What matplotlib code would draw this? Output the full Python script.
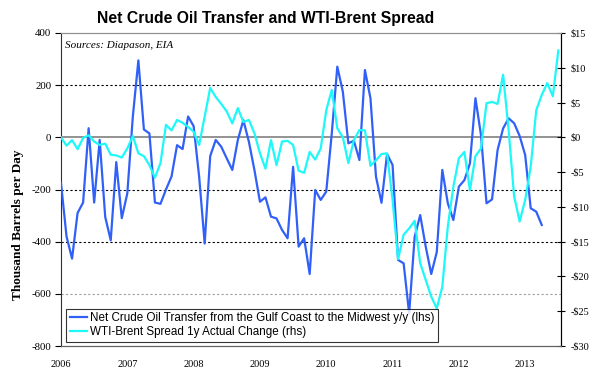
import matplotlib
matplotlib.use("Agg")
import matplotlib.pyplot as plt
import numpy as np

# Net crude oil transfer (thousand b/d, y/y), monthly from Jan 2006
transfer = [
    -175, -380, -465, -290, -250, 35, -250, -10, -305, -395, -95, -310,      # 2006
    -215, 80, 295, 30, 15, -250, -255, -200, -150, -30, -45, 80,             # 2007
    43, -151, -407, -72, -10, -36, -81, -125, -10, 66, -17, -125,            # 2008
    -247, -230, -304, -311, -355, -387, -113, -419, -387, -524, -202, -240,  # 2009
    -208, 15, 271, 175, -23, -13, -87, 258, 150, -151, -251, -64,            # 2010
    -106, -470, -483, -675, -381, -298, -419, -524, -440, -125, -253, -317,  # 2011
    -189, -164, -100, 150, 9, -253, -238, -49, 34, 73, 54, 5,                # 2012
    -68, -272, -285, -336,                                                   # 2013
]
# WTI-Brent spread 1y actual change ($), monthly from Jan 2006
spread = [
    0, -1.2, -0.4, -1.7, -0.1, 0.3, -0.6, -1.1, -0.9, -2.5, -2.6, -2.9,
    -1.6, 0.2, -2.3, -2.7, -4.0, -5.8, -3.7, 1.8, 1.0, 2.5, 2.1, 1.5,
    0.8, -1.1, 3.0, 7.1, 5.8, 4.8, 3.7, 2.0, 4.2, 2.2, 2.5, 0.6,
    -2.3, -4.5, -0.4, -4.0, -0.6, -0.5, -1.1, -4.8, -5.1, -2.1, -3.2, -1.6,
    3.9, 6.8, 1.3, 0.0, -3.7, -0.4, 1.05, 1.0, -4.1, -3.3, -2.4, -2.3,
    -9.0, -17.5, -14.0, -13.1, -12.0, -18.1, -20.5, -22.9, -24.6, -21.5, -12.8, -7.1,
    -3.0, -2.1, -7.6, -2.7, -1.6, 4.9, 5.1, 4.8, 9.0, 1.05, -8.5, -12.1,
    -9.0, -4.2, 3.9, 6.1, 7.8, 5.9, 12.5,
]
years = [2006, 2007, 2008, 2009, 2010, 2011, 2012, 2013]
left_ticks = [400, 200, 0, -200, -400, -600, -800]
right_ticks = [15, 10, 5, 0, -5, -10, -15, -20, -25, -30]

t_transfer = 2006 + np.arange(len(transfer)) / 12.0
t_spread = 2006 + np.arange(len(spread)) / 12.0

serif = "Liberation Serif"
sans = "Liberation Sans"

fig = plt.figure(figsize=(6.1, 3.75), dpi=100)
ax = fig.add_axes([61/610, 1-346/375, 500/610, 313/375])
ax2 = ax.twinx()

ax.set_xlim(2006.0, 2013.54)
ax.set_ylim(-800, 400)
ax2.set_ylim(-30, 15)

# gridlines
for v in [200, -200, -400]:
    ax.axhline(v, color="black", lw=0.8, ls=(0, (2, 2)), zorder=1)
ax.axhline(-600, color="#a0a0a0", lw=0.8, ls=(0, (2, 2)), zorder=1)
ax.axhline(0, color="#808080", lw=1.2, zorder=1)

l1, = ax.plot(t_transfer, transfer, color="#3060F8", lw=1.6, zorder=3,
              label="Net Crude Oil Transfer from the Gulf Coast to the Midwest y/y (lhs)")
l2, = ax2.plot(t_spread, spread, color="#1EF8F8", lw=1.6, zorder=3,
               label="WTI-Brent Spread 1y Actual Change (rhs)")

# spines
ax.spines["top"].set_color("#909090")
ax2.spines["top"].set_color("#909090")
ax.spines["left"].set_color("#303030")
ax2.spines["right"].set_color("black")
ax.spines["bottom"].set_color("#606060")
ax2.spines["bottom"].set_color("#606060")
ax2.spines["left"].set_visible(False)

ax.set_yticks(left_ticks)
ax.set_yticklabels([str(v) for v in left_ticks], fontfamily=serif, fontsize=7.8)
ax.tick_params(axis="y", direction="out", length=4, width=0.8, pad=3)
ax.set_xticks(years)
ax.set_xticklabels([str(y) for y in years], fontfamily=serif, fontsize=7.4)
ax.tick_params(axis="x", length=0, pad=10)

ax2.set_yticks(right_ticks)
ax2.set_yticklabels([("-$%d" % -v) if v < 0 else ("$%d" % v) for v in right_ticks],
                    fontfamily=serif, fontsize=7.4)
ax2.tick_params(axis="y", direction="inout", length=6, width=0.8, pad=4)

ax.set_ylabel("Thousand Barrels per Day", fontfamily=serif, fontsize=9.5,
              fontweight="bold")
ax.yaxis.set_label_coords(-37/500, (346-225)/313)

ax.text(0.008, 0.975, "Sources: Diapason, EIA", transform=ax.transAxes,
        fontfamily=serif, fontstyle="italic", fontsize=8, va="top", ha="left")

fig.text(266/610, 1-19/375, "Net Crude Oil Transfer and WTI-Brent Spread",
         fontfamily=sans, fontweight="bold", fontsize=11.3, ha="center", va="center")

leg = ax2.legend(handles=[l1, l2], loc="lower left",
                 bbox_to_anchor=(5/500, 4/313), borderaxespad=0,
                 prop={"family": sans, "size": 8.4}, frameon=True, fancybox=False,
                 handlelength=1.5, handletextpad=0.3, borderpad=0.3,
                 labelspacing=0.2, edgecolor="black")
leg.get_frame().set_linewidth(0.8)

fig.savefig("out.png", dpi=100)
